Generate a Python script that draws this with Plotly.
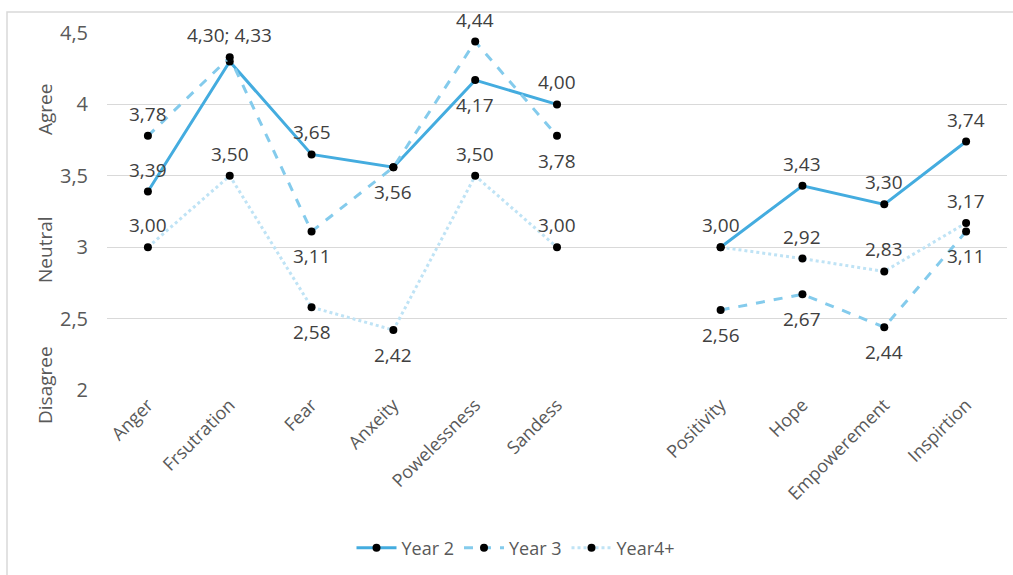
import plotly.graph_objects as go

categories = ["Anger", "Frsutration", "Fear", "Anxeity", "Powelessness", "Sandess", "",
              "Positivity", "Hope", "Empowerement", "Inspirtion"]
year2 = [3.39, 4.30, 3.65, 3.56, 4.17, 4.00, None, 3.00, 3.43, 3.30, 3.74]
year3 = [3.78, 4.33, 3.11, 3.56, 4.44, 3.78, None, 2.56, 2.67, 2.44, 3.11]
year4 = [3.00, 3.50, 2.58, 2.42, 3.50, 3.00, None, 3.00, 2.92, 2.83, 3.17]
y_ticks = [2, 2.5, 3, 3.5, 4, 4.5]
y_tick_labels = ["2", "2,5", "3", "3,5", "4", "4,5"]
series_names = ["Year 2", "Year 3", "Year4+"]

FONT = "Open Sans"
x = list(range(len(categories)))


def fmt(v):
    return "" if v is None else f"{v:.2f}".replace(".", ",")


# label texts (Excel combined / hidden overlapping labels)
t2 = [fmt(v) for v in year2]
t3 = [fmt(v) for v in year3]
t4 = [fmt(v) for v in year4]
t3[1] = fmt(year2[1]) + "; " + fmt(year3[1])
t2[1] = ""
t3[3] = ""
t4[7] = ""

U, D = 1, -1
pos2 = [U, U, U, D, D, U, U, U, U, U, U]
pos3 = [U, U, D, U, U, D, U, D, D, D, D]
pos4 = [U, U, D, D, U, U, U, U, U, U, U]

fig = go.Figure()
styles = [
    (year2, t2, pos2, "#44acdf", "solid"),
    (year3, t3, pos3, "#84cbec", "dash"),
    (year4, t4, pos4, "#bfe3f5", "dot"),
]
for name, (vals, txt, pos, col, dash) in zip(series_names, styles):
    fig.add_trace(go.Scatter(
        x=x, y=vals, name=name, mode="lines+markers",
        line=dict(color=col, width=3, dash=dash),
        marker=dict(color="black", size=8),
        connectgaps=False, cliponaxis=False,
    ))
    for xi, v, t, p in zip(x, vals, txt, pos):
        if v is None or not t:
            continue
        fig.add_annotation(x=xi, y=v, xref="x", yref="y", text=t, showarrow=False,
                           xanchor="center", yanchor="middle",
                           yshift=22 if p == U else -25,
                           font=dict(family=FONT, size=19, color="#404040"))

L, R, T, B = 107, 6, 33, 185
W, H = 1013, 575
pw, ph = W - L - R, H - T - B

fig.update_layout(
    width=W, height=H,
    margin=dict(l=L, r=R, t=T, b=B),
    paper_bgcolor="white", plot_bgcolor="white",
    font=dict(family=FONT, color="#595959"),
    showlegend=True,
    legend=dict(orientation="h", x=(516 - L) / pw, xanchor="center",
                y=-(548 - (T + ph)) / ph, yanchor="middle",
                font=dict(family=FONT, size=18, color="#595959"),
                itemwidth=40),
    xaxis=dict(range=[-0.5, len(categories) - 0.5],
               tickmode="array",
               tickvals=[i for i, c in enumerate(categories) if c],
               ticktext=[c for c in categories if c],
               tickangle=-45, showgrid=False, zeroline=False, showline=False,
               tickfont=dict(family=FONT, size=18, color="#595959")),
    yaxis=dict(range=[2, 4.5], tickmode="array", tickvals=y_ticks, ticktext=y_tick_labels,
               showgrid=True, gridcolor="#d9d9d9", gridwidth=1, zeroline=False,
               showline=False, ticklabelstandoff=18,
               tickfont=dict(family=FONT, size=20, color="#595959")),
)

# chart border
fig.add_shape(type="rect", xref="paper", yref="paper",
              x0=(7 - L) / pw, x1=(W + 5 - L) / pw,
              y0=-(H + 5 - T - ph) / ph, y1=1 + (T - 12) / ph,
              line=dict(color="#d9d9d9", width=1.5), layer="below")

# side labels
for txt, yc in [("Agree", 110), ("Neutral", 250), ("Disagree", 385)]:
    fig.add_annotation(text=txt, xref="paper", yref="paper",
                       x=(45 - L) / pw, y=1 - (yc - T) / ph,
                       xanchor="center", yanchor="middle",
                       showarrow=False, textangle=-90,
                       font=dict(family=FONT, size=19, color="#595959"))

fig.write_html("out.html")
